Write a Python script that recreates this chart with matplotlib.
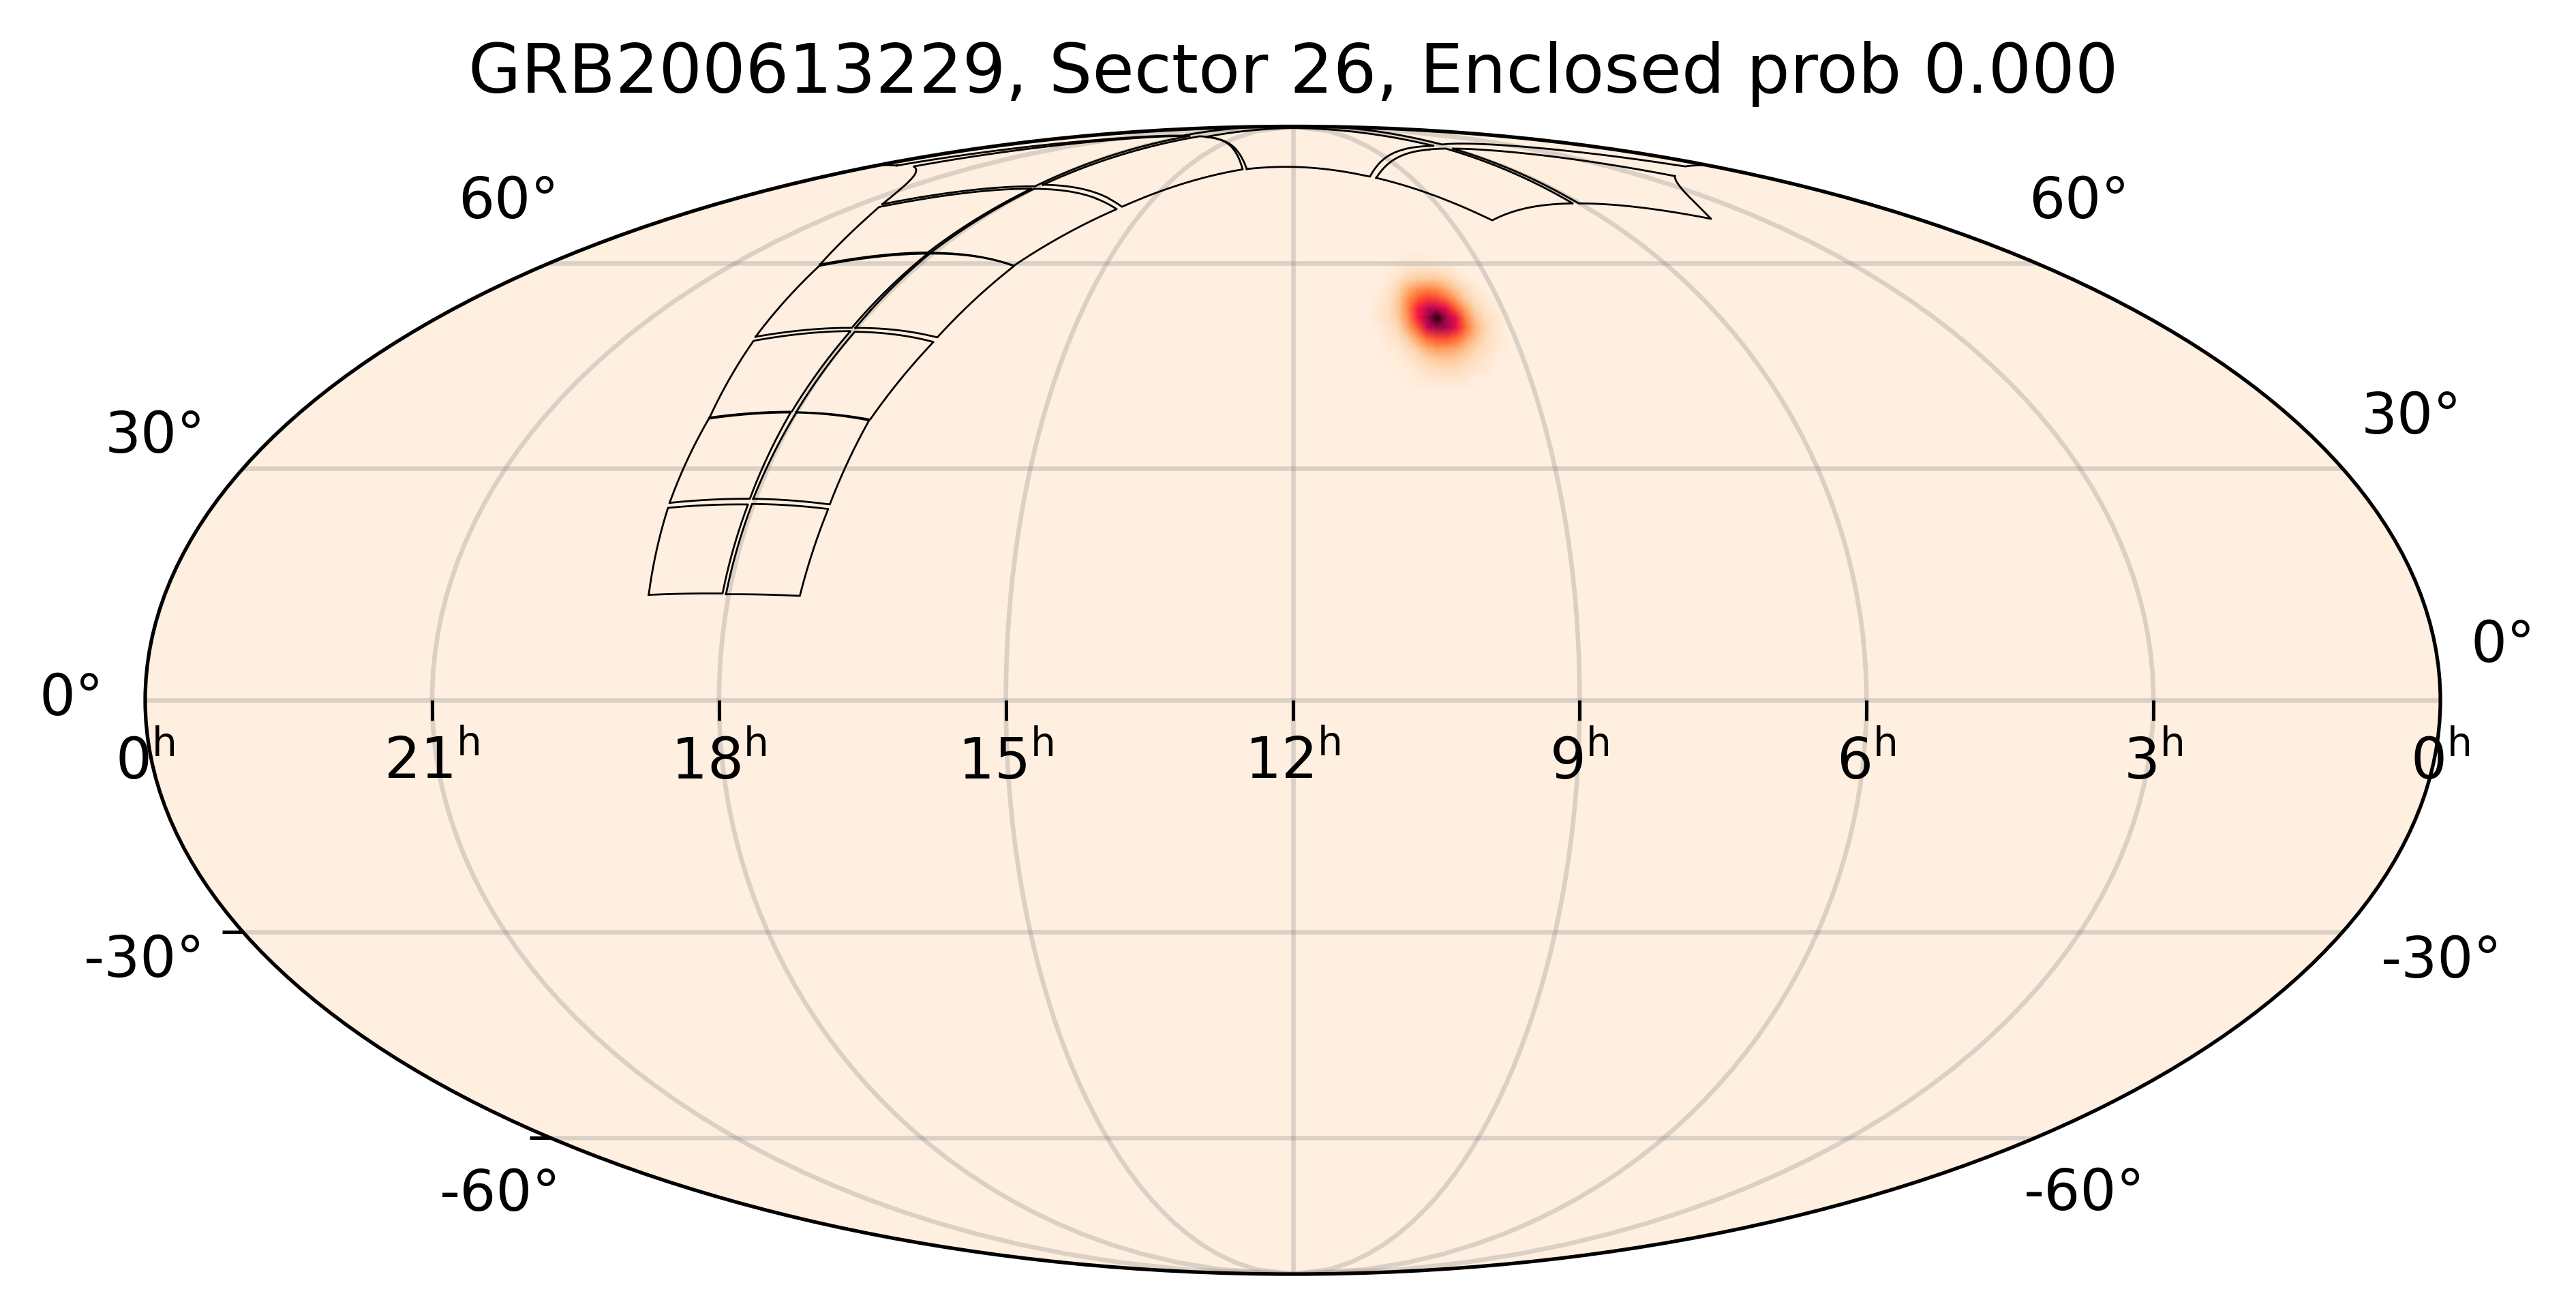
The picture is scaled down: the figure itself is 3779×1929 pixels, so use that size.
import numpy as np
import matplotlib
matplotlib.use("Agg")
import matplotlib.pyplot as plt
from matplotlib.colors import LinearSegmentedColormap
from matplotlib.ticker import NullFormatter

title = "GRB200613229, Sector 26, Enclosed prob 0.000"

# tile corners (RA, Dec in degrees), bottom row of the field first
r1L = [(282.77, 13.45), (271.03, 13.62), (270.91, 25.21), (284.02, 24.76)]
r1R = [(270.46, 13.53), (258.63, 13.31), (257.29, 24.61), (270.26, 25.28)]
r2L = [(284.10, 25.42), (270.95, 25.96), (271.03, 37.65), (285.12, 36.80)]
r2R = [(270.38, 25.96), (257.26, 25.21), (256.12, 36.55), (270.01, 37.65)]
r3L = [(285.12, 36.94), (270.92, 37.75), (270.62, 49.33), (288.51, 47.89)]
r3R = [(270.06, 37.68), (256.01, 36.66), (252.17, 47.72), (269.62, 49.23)]
r4L = [(288.90, 48.49), (270.93, 49.81), (271.22, 61.53), (293.67, 59.50)]
r4R = [(270.16, 49.81), (251.98, 48.39), (246.86, 59.50), (270.71, 61.53)]
r5L = [(293.98, 59.73), (271.55, 61.71), (270.46, 73.28), (307.03, 69.78)]
r5R = [(270.75, 61.65), (247.02, 59.50), (233.41, 69.37), (269.51, 73.28)]
r6L = [(308.11, 70.32), (270.94, 73.76), (269.34, 85.90), (342.10, 78.00)]
r6R = [(269.26, 74.11), (232.51, 69.81), (200.71, 77.35), (259.11, 85.79)]
r7L = [(351.19, 78.20), (276.98, 86.01), (86.07, 83.39), (12.30, 78.00)]
r7R = [(199.09, 77.43), (150.46, 75.76), (94.35, 83.02), (252.04, 85.58)]
r8L = [(32.69, 75.90), (88.82, 82.29), (90.39, 70.45), (59.42, 67.58)]
r8R = [(148.35, 75.52), (122.95, 67.30), (92.21, 70.45), (92.71, 82.29)]
tiles = [r1L, r1R, r2L, r2R, r3L, r3R, r4L, r4R, r5L, r5R, r6L, r6R, r7L, r7R, r8L, r8R]

ra_hours = [21, 18, 15, 12, 9, 6, 3]
dec_labels = ["0°", "0°", "30°", "30°", "60°", "60°", "-30°", "-30°", "-60°", "-60°"]

blob_dec = [61.8, 60.3, 58.8, 57.3, 55.8, 54.3, 52.8, 51.3, 49.8, 48.3, 46.8, 45.3, 43.8, 42.3, 40.8]
blob_ra = [163.7, 161.7, 159.7, 157.7, 155.7, 153.7, 151.7, 149.7, 147.7, 145.7, 143.7, 141.7, 139.7, 137.7, 135.7]
blob_prob = [
    [0.00, 0.00, 0.00, 0.00, 0.00, 0.00, 0.00, 0.00, 0.00, 0.00, 0.00, 0.00, 0.00, 0.00, 0.00],
    [0.00, 0.00, 0.00, 0.01, 0.02, 0.02, 0.02, 0.01, 0.01, 0.00, 0.00, 0.00, 0.00, 0.00, 0.00],
    [0.00, 0.00, 0.01, 0.02, 0.04, 0.05, 0.05, 0.05, 0.04, 0.03, 0.01, 0.00, 0.00, 0.00, 0.00],
    [0.00, 0.01, 0.02, 0.05, 0.09, 0.11, 0.12, 0.12, 0.10, 0.07, 0.03, 0.01, 0.00, 0.00, 0.00],
    [0.00, 0.01, 0.04, 0.10, 0.19, 0.26, 0.30, 0.28, 0.21, 0.14, 0.08, 0.04, 0.01, 0.00, 0.00],
    [0.01, 0.02, 0.05, 0.13, 0.28, 0.42, 0.48, 0.46, 0.37, 0.24, 0.12, 0.06, 0.03, 0.01, 0.00],
    [0.01, 0.03, 0.06, 0.14, 0.32, 0.56, 0.68, 0.70, 0.60, 0.42, 0.22, 0.09, 0.04, 0.02, 0.00],
    [0.01, 0.03, 0.05, 0.12, 0.28, 0.56, 0.76, 0.98, 0.76, 0.60, 0.32, 0.14, 0.06, 0.03, 0.01],
    [0.00, 0.01, 0.03, 0.07, 0.20, 0.40, 0.66, 0.76, 0.74, 0.60, 0.36, 0.17, 0.08, 0.03, 0.01],
    [0.00, 0.00, 0.02, 0.04, 0.10, 0.22, 0.38, 0.45, 0.46, 0.38, 0.24, 0.13, 0.06, 0.03, 0.01],
    [0.00, 0.00, 0.01, 0.02, 0.05, 0.10, 0.18, 0.24, 0.24, 0.21, 0.14, 0.08, 0.05, 0.02, 0.01],
    [0.00, 0.00, 0.00, 0.01, 0.02, 0.05, 0.09, 0.12, 0.13, 0.11, 0.08, 0.05, 0.03, 0.01, 0.00],
    [0.00, 0.00, 0.00, 0.00, 0.01, 0.02, 0.04, 0.06, 0.07, 0.07, 0.05, 0.03, 0.02, 0.00, 0.00],
    [0.00, 0.00, 0.00, 0.00, 0.00, 0.01, 0.02, 0.03, 0.03, 0.03, 0.02, 0.01, 0.00, 0.00, 0.00],
    [0.00, 0.00, 0.00, 0.00, 0.00, 0.00, 0.00, 0.00, 0.00, 0.00, 0.00, 0.00, 0.00, 0.00, 0.00],
]

cylon = LinearSegmentedColormap.from_list("cylon_like", [
    (0.00, "#ffefe0"), (0.10, "#fdd0a6"), (0.20, "#feaa6c"), (0.33, "#ff7a35"),
    (0.42, "#ff5a2b"), (0.55, "#ff1a3c"), (0.62, "#e00a50"), (0.72, "#b8085a"),
    (0.82, "#800440"), (0.92, "#400010"), (1.00, "#180004"),
])


def sky_to_plot(ra, dec):
    # RA runs backwards on the map, 12h sits in the middle
    lon = np.radians((180.0 - np.asarray(ra) + 180.0) % 360.0 - 180.0)
    return lon, np.radians(dec)


def tile_outline(corners, steps=60):
    # tile sides are great circles, walk along them between the corners
    ra = np.radians([c[0] for c in corners] + [corners[0][0]])
    dec = np.radians([c[1] for c in corners] + [corners[0][1]])
    xyz = np.column_stack([np.cos(dec) * np.cos(ra), np.cos(dec) * np.sin(ra), np.sin(dec)])
    out_ra = []
    out_dec = []
    for p, q in zip(xyz[:-1], xyz[1:]):
        w = np.arccos(np.clip(np.dot(p, q), -1, 1))
        for t in np.linspace(0, 1, steps):
            v = (np.sin((1 - t) * w) * p + np.sin(t * w) * q) / np.sin(w)
            out_ra.append(np.degrees(np.arctan2(v[1], v[0])) % 360.0)
            out_dec.append(np.degrees(np.arcsin(v[2])))
    lon, lat = sky_to_plot(out_ra, out_dec)
    # break the line where it runs off one side of the map
    jumps = np.where(np.abs(np.diff(lon)) > np.pi)[0] + 1
    return np.insert(lon, jumps, np.nan), np.insert(lat, jumps, np.nan)


fig = plt.figure(figsize=(3779.01 / 400, 1929.01 / 400), dpi=400)
W, H = 3779.0, 1929.0
ax = fig.add_axes([213 / W, 60 / H, 3367 / W, 1683.5 / H], projection="mollweide")
ax.set_facecolor(cylon(0.0))
ax.set_longitude_grid(45)
ax.set_latitude_grid(30)
ax.set_longitude_grid_ends(90)
ax.xaxis.set_major_formatter(NullFormatter())
ax.yaxis.set_major_formatter(NullFormatter())
ax.grid(True, color="#808080", alpha=0.28, linewidth=1.2)
for spine in ax.spines.values():
    spine.set_linewidth(0.95)

# the read grid follows image rows, meridians lean across it by 0.6 deg per row
lon_grid, lat_grid = sky_to_plot(*np.meshgrid(blob_ra, blob_dec))
row_lean = np.radians(0.6) * (np.arange(len(blob_dec))[::-1] - 7)
lon_grid = lon_grid + row_lean[:, None]
ax.pcolormesh(lon_grid, lat_grid, np.array(blob_prob), shading="gouraud", cmap=cylon,
              vmin=0, vmax=1, zorder=1.5)

for corners in tiles:
    lon, lat = tile_outline(corners)
    ax.plot(lon, lat, color="black", linewidth=0.5, zorder=3)

# RA ticks and labels hang below the equator
for h in ra_hours:
    lon, lat = sky_to_plot(h * 15.0, 0.0)
    ax.plot([lon], [lat], marker=3, markersize=5.4, markeredgewidth=0.9, color="black",
            clip_on=False, zorder=4)
    ax.annotate("$%d^{\\mathrm{h}}$" % h, (lon, lat), xytext=(0, -9), textcoords="offset points",
                ha="center", va="top", fontsize=15, annotation_clip=False)
for lon_edge in [-np.pi, np.pi]:
    ax.annotate("$0^{\\mathrm{h}}$", (lon_edge, 0.0), xytext=(0, -9), textcoords="offset points",
                ha="center", va="top", fontsize=15, annotation_clip=False)

for dec in [-30, -60]:
    ax.plot([-np.pi], [np.radians(dec)], marker=0, markersize=5.4, markeredgewidth=0.9,
            color="black", clip_on=False, zorder=4)

# declination labels sit where the original left them
dec_xy = [(105, 1025), (3672, 947), (228, 640), (3538, 612), (746, 296), (3050, 296),
          (212, 1409), (3582, 1410), (734, 1752), (3058, 1751)]
for label, (px, py) in zip(dec_labels, dec_xy):
    fig.text(px / W, 1 - py / H, label, ha="center", va="center", fontsize=15)

fig.text(1897 / W, 1 - 108 / H, title, ha="center", va="center", fontsize=18)

fig.savefig("out.png", dpi=400)
